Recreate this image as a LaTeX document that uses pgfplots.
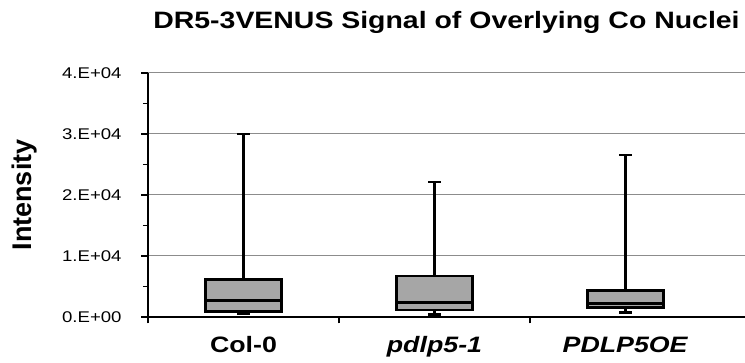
\documentclass[border=0pt]{standalone}
\usepackage{fontspec}
\setmainfont{Liberation Sans}
\newfontfamily\wide{Liberation Sans}[FakeStretch=1.2]
\usepackage{pgfplots}
\pgfplotsset{compat=1.18}
\usepgfplotslibrary{statistics}
\definecolor{boxgray}{RGB}{166,166,166}
\definecolor{gridgray}{RGB}{140,140,140}
\begin{document}
\begin{tikzpicture}
% intensity values in units of 1E+04
\begin{axis}[
  scale only axis, width=597pt, height=244pt,
  at={(0pt,0pt)}, anchor=south west,
  xmin=-0.5, xmax=2.626, ymin=0, ymax=4,
  axis lines=left, axis line style={-, line width=1.6pt, black},
  xtick={-0.5,0.5,1.5}, xticklabels={},
  extra x ticks={0,1,2},
  extra x tick labels={Col-0,\textit{pdlp5-1},\textit{PDLP5OE}},
  extra x tick style={major tick length=0pt, grid=none},
  xticklabel style={font=\wide\bfseries\fontsize{22.3}{26}\selectfont, anchor=base, inner sep=0pt, yshift=-36pt},
  ytick={0,1,2,3,4},
  yticklabels={0.E+00,1.E+04,2.E+04,3.E+04,4.E+04},
  minor ytick={0.5,1.5,2.5,3.5},
  yticklabel style={font=\wide\fontsize{15.5}{18}\selectfont, anchor=east, inner sep=0pt, xshift=-19.7pt},
  tick align=outside,
  major tick length=6.5pt, minor tick length=5pt,
  tick style={black, line width=1.5pt},
  ymajorgrids, major grid style={gridgray, line width=1pt},
  clip=false,
  boxplot/draw direction=y,
]
% whiskers (stems and caps)
\addplot[black, line width=2.6pt] coordinates {(0,0.618) (0,3.0)};
\addplot[black, line width=2.6pt] coordinates {(-0.032,3.0) (0.032,3.0)};
\addplot[black, line width=2.6pt] coordinates {(0,0.087) (0,0.049)};
\addplot[black, line width=2.6pt] coordinates {(-0.032,0.049) (0.032,0.049)};
\addplot[black, line width=2.6pt] coordinates {(1,0.672) (1,2.215)};
\addplot[black, line width=2.6pt] coordinates {(0.968,2.215) (1.032,2.215)};
\addplot[black, line width=2.6pt] coordinates {(1,0.115) (1,0.038)};
\addplot[black, line width=2.6pt] coordinates {(0.968,0.038) (1.032,0.038)};
\addplot[black, line width=2.6pt] coordinates {(2,0.437) (2,2.655)};
\addplot[black, line width=2.6pt] coordinates {(1.968,2.655) (2.032,2.655)};
\addplot[black, line width=2.6pt] coordinates {(2,0.159) (2,0.077)};
\addplot[black, line width=2.6pt] coordinates {(1.968,0.077) (2.032,0.077)};
% boxes
\addplot[boxplot prepared={lower whisker=0.049, lower quartile=0.087, median=0.267,
  upper quartile=0.618, upper whisker=3.0, draw position=0, box extend=0.4, whisker extend=0.065},
  draw=black, fill=boxgray, line width=2.6pt] coordinates {};
\addplot[boxplot prepared={lower whisker=0.038, lower quartile=0.115, median=0.241,
  upper quartile=0.672, upper whisker=2.215, draw position=1, box extend=0.4, whisker extend=0.065},
  draw=black, fill=boxgray, line width=2.6pt] coordinates {};
\addplot[boxplot prepared={lower whisker=0.077, lower quartile=0.159, median=0.225,
  upper quartile=0.437, upper whisker=2.655, draw position=2, box extend=0.4, whisker extend=0.065},
  draw=black, fill=boxgray, line width=2.6pt] coordinates {};
\end{axis}
\node[anchor=base, font=\wide\bfseries\fontsize{23.7}{28}\selectfont] at (298.5pt,288pt) {DR5-3VENUS Signal of Overlying Co Nuclei};
\node[rotate=90, anchor=base, font=\bfseries\fontsize{27}{32}\selectfont] at (-116.3pt,122pt) {Intensity};
\pgfresetboundingbox
\path[use as bounding box] (-148pt,-46pt) rectangle (597pt,317pt);
\end{tikzpicture}
\end{document}
